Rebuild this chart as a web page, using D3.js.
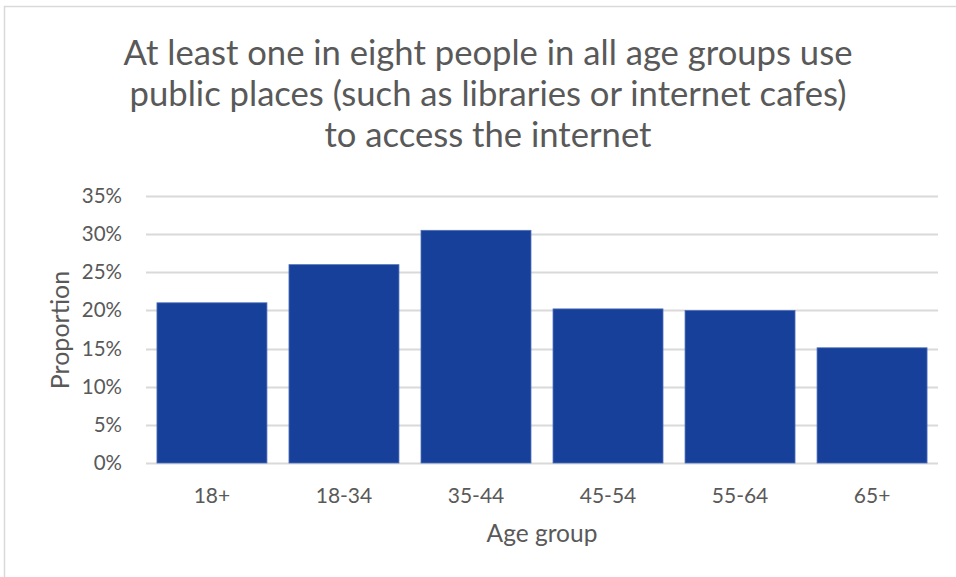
<!DOCTYPE html>
<html>
<head>
<meta charset="utf-8">
<script src="https://cdn.jsdelivr.net/npm/d3@7"></script>
<style>
  html, body { margin: 0; padding: 0; background: #fff; }
  svg { display: block; }
  text { font-family: Lato, "Open Sans", sans-serif; fill: #595959; }
</style>
</head>
<body>
<svg id="chart" width="956" height="577"></svg>
<script>
const categories = ["18+", "18-34", "35-44", "45-54", "55-64", "65+"];
const values = [0.21, 0.26, 0.305, 0.202, 0.20, 0.151];
const yTicks = [0, 0.05, 0.10, 0.15, 0.20, 0.25, 0.30, 0.35];
const titleLines = [
  "At least one in eight people in all age groups use",
  "public places (such as libraries or internet cafes)",
  "to access the internet"
];
const xTitle = "Age group";
const yTitle = "Proportion";

const W = 956, H = 577;
const margin = { left: 146, right: 18, top: 196, bottom: 114 };
const svg = d3.select("#chart");

// chart border (extends past right/bottom)
svg.append("rect")
  .attr("x", 4.5).attr("y", 6.5)
  .attr("width", W + 10).attr("height", H + 10)
  .attr("fill", "#fff").attr("stroke", "#d9d9d9").attr("stroke-width", 1.5);

const x = d3.scaleBand()
  .domain(categories)
  .range([margin.left, W - margin.right])
  .paddingInner(0.167)
  .paddingOuter(0.083);

const y = d3.scaleLinear()
  .domain([0, 0.35])
  .range([H - margin.bottom, margin.top]);

// gridlines
svg.append("g").selectAll("line")
  .data(yTicks)
  .join("line")
  .attr("x1", margin.left).attr("x2", W - margin.right)
  .attr("y1", d => Math.round(y(d)) + 0.5).attr("y2", d => Math.round(y(d)) + 0.5)
  .attr("stroke", "#d9d9d9").attr("stroke-width", 2);

// y axis labels
const yAxis = d3.axisLeft(y).tickValues(yTicks).tickFormat(d3.format(".0%")).tickSize(0).tickPadding(0);
const gy = svg.append("g").attr("transform", `translate(${margin.left - 24},0)`).call(yAxis);
gy.select(".domain").remove();
gy.selectAll("text").style("font-size", "20.5px").attr("fill", "#595959").attr("font-family", null);

// bars
svg.append("g").selectAll("rect")
  .data(values)
  .join("rect")
  .attr("x", (d, i) => x(categories[i]))
  .attr("width", x.bandwidth())
  .attr("y", d => y(d))
  .attr("height", d => y(0) - y(d))
  .attr("fill", "#17409a")
  .attr("stroke", "#4f70b8").attr("stroke-width", 0.8);

// x axis labels
const xAxis = d3.axisBottom(x).tickSize(0).tickPadding(0);
const gx = svg.append("g").attr("transform", `translate(0,0)`).call(xAxis);
gx.select(".domain").remove();
gx.selectAll("text").attr("y", 503).attr("dy", null)
  .style("font-size", "21px").attr("fill", "#595959").attr("font-family", null);

// axis titles
svg.append("text")
  .attr("x", 542).attr("y", 542)
  .attr("text-anchor", "middle").style("font-size", "24.5px").text(xTitle);

svg.append("text")
  .attr("transform", `translate(69,330) rotate(-90)`)
  .attr("text-anchor", "middle").style("font-size", "25px").text(yTitle);

// title
const tg = svg.append("g");
const tt = tg.selectAll("text").data(titleLines).join("text")
  .attr("x", 488).attr("y", (d, i) => 65 + i * 41)
  .attr("text-anchor", "middle").style("font-size", "32px").text(d => d);
const w0 = tt.nodes()[0].getComputedTextLength();
const fs = 32 * 729 / w0;
tt.style("font-size", fs + "px");
</script>
</body>
</html>
